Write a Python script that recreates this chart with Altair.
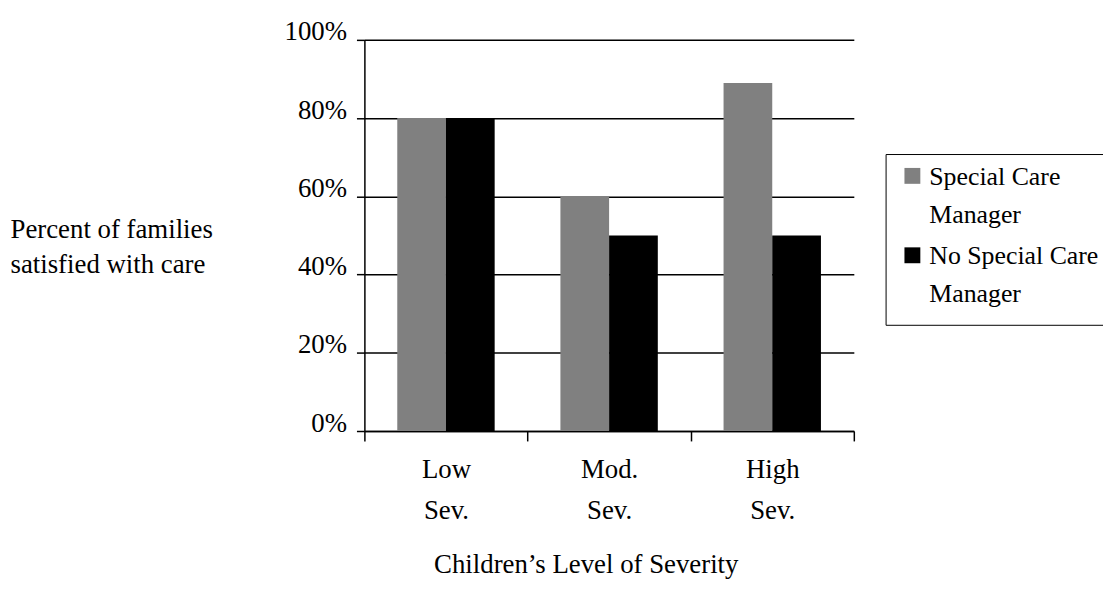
import altair as alt
import pandas as pd

# ---- data ----
categories = ["Low Sev.", "Mod. Sev.", "High Sev."]
series = ["Special Care Manager", "No Special Care Manager"]
special_care = [0.80, 0.60, 0.89]
no_special_care = [0.80, 0.50, 0.50]
y_ticks = [0.0, 0.2, 0.4, 0.6, 0.8, 1.0]
colors = ["#808080", "#000000"]

rows = []
for cat, a, b in zip(categories, special_care, no_special_care):
    rows.append({"level": cat, "group": series[0], "pct": a})
    rows.append({"level": cat, "group": series[1], "pct": b})
df = pd.DataFrame(rows)

FONT = "Liberation Serif"
FS = 27
LEGEND_FS = 26

bars = alt.Chart(df).mark_bar().encode(
    x=alt.X(
        "level:N",
        sort=categories,
        scale=alt.Scale(paddingInner=0, paddingOuter=0),
        axis=alt.Axis(
            title="Children\u2019s Level of Severity",
            labelAngle=0,
            labelExpr="split(datum.label, ' ')",
            labelLineHeight=41,
            labelBaseline="alphabetic",
            labelAlign="center",
            labelPadding=37,
            tickBand="extent",
            tickSize=10,
            tickColor="black",
            tickWidth=1.5,
            domainColor="black",
            domainWidth=1.5,
            titleX=223,
            titleY=143,
            titleAlign="center",
            titleBaseline="alphabetic",
        ),
    ),
    xOffset=alt.XOffset("group:N", sort=series,
                        scale=alt.Scale(paddingInner=0, paddingOuter=0.675)),
    y=alt.Y(
        "pct:Q",
        scale=alt.Scale(domain=[0, 1], nice=False),
        axis=alt.Axis(
            values=y_ticks,
            format="%",
            title=["Percent of families", "satisfied with care"],
            titleAngle=0,
            titleAlign="left",
            titleBaseline="alphabetic",
            titleX=-357,
            titleY=199,
            titleLineHeight=35,
            labelBaseline="alphabetic",
            labelPadding=10,
            tickSize=8,
            tickColor="black",
            tickWidth=1.5,
            domainColor="black",
            domainWidth=1.5,
            gridColor="black",
            gridWidth=1.5,
            gridOpacity=1,
        ),
    ),
    color=alt.Color(
        "group:N",
        sort=series,
        scale=alt.Scale(domain=series, range=colors),
        legend=alt.Legend(
            title=None,
            orient="none",
            legendX=525,
            legendY=115,
            padding=18,
            strokeColor="black",
            symbolType="M-1.5,-2.125H0.5V-0.125H-1.5Z",
            symbolSize=256,
            symbolStrokeWidth=0,
            symbolOpacity=1,
            symbolOffset=0,
            labelOffset=0,
            labelBaseline="alphabetic",
            labelLimit=400,
            rowPadding=16,
            labelExpr="split(replace(datum.label, ' Manager', '|Manager'), '|')",
        ),
    ),
).properties(
    width=493,
    height=394,
    padding={"left": 359, "top": 30, "right": 251, "bottom": 151},
    autosize=alt.AutoSizeParams(type="none"),
).configure_view(
    stroke=None
).configure_axis(
    labelFont=FONT,
    labelFontSize=FS,
    labelColor="black",
    titleFont=FONT,
    titleFontSize=FS,
    titleFontWeight="normal",
    titleColor="black",
    grid=False,
).configure_axisY(
    grid=True
).configure_legend(
    labelFont=FONT,
    labelFontSize=LEGEND_FS,
    labelColor="black",
)

bars.config.style = {"guide-label": {"lineHeight": 38}}

bars.save("out.html", embed_options={"renderer": "svg", "actions": False})
